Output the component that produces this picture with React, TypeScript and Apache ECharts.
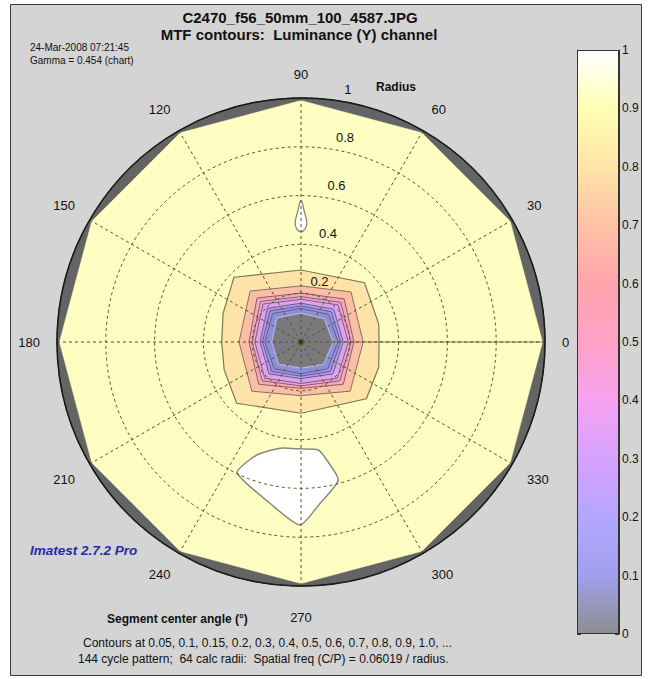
import { useEffect, useRef } from "react";
import * as echarts from "echarts";

// ---------- data ----------
const angleTicks = [0, 30, 60, 90, 120, 150, 180, 210, 240, 270, 300, 330];
const radiusTicks = [0.2, 0.4, 0.6, 0.8, 1];
const radiusLabelAngle = 80;
const colorbarTicks = [0, 0.1, 0.2, 0.3, 0.4, 0.5, 0.6, 0.7, 0.8, 0.9, 1];

// colormap (value -> colour)
const cmapValues = [1, 0.9, 0.8, 0.7, 0.6, 0.5, 0.4, 0.3, 0.2, 0.1, 0];
const cmapColors = ["#ffffff", "#ffffb4", "#ffe4a8", "#ffc2a6", "#ffa4ac", "#ffa2c8", "#f6a2f0", "#d6a2ff", "#b4a6ff", "#a0a0ee", "#8e8e8e"];

// measurement domain: 12 segments
const domainAngles = [0, 30, 60, 90, 120, 150, 180, 210, 240, 270, 300, 330];
const domainRadii = [0.99, 0.99, 0.99, 0.99, 0.99, 0.99, 0.99, 0.99, 0.99, 0.99, 0.99, 0.99];

// contour 0.9 (outer boundary of the orange band)
const c09Angles = [0, 13, 43, 90, 136, 160, 180, 200, 223.6, 270, 319, 342];
const c09Radii = [0.32, 0.327, 0.356, 0.295, 0.382, 0.34, 0.325, 0.335, 0.364, 0.292, 0.355, 0.335];

// inner contours, sampled at 8 directions
const octAngles = [0, 45, 90, 135, 180, 225, 270, 315];
const c08Radii = [0.255, 0.29, 0.23, 0.295, 0.254, 0.285, 0.22, 0.285];
const c07Radii = [0.217, 0.25, 0.2, 0.255, 0.213, 0.245, 0.19, 0.245];
const c06Radii = [0.205, 0.23, 0.186, 0.235, 0.2, 0.225, 0.18, 0.225];
const c05Radii = [0.194, 0.215, 0.175, 0.22, 0.189, 0.21, 0.17, 0.21];
const c04Radii = [0.173, 0.19, 0.159, 0.195, 0.168, 0.185, 0.15, 0.185];
const c03Radii = [0.162, 0.175, 0.148, 0.18, 0.158, 0.17, 0.14, 0.17];
const c02Radii = [0.152, 0.16, 0.138, 0.165, 0.148, 0.155, 0.13, 0.155];
const c01Radii = [0.132, 0.135, 0.118, 0.14, 0.12, 0.13, 0.107, 0.13];

// regions above 1.0
const whiteTopAngles = [90, 91.6, 92.8, 92.2, 90, 87.8, 87.2, 88.4];
const whiteTopRadii = [0.58, 0.53, 0.49, 0.465, 0.452, 0.465, 0.49, 0.53];
const whiteLowAngles = [244, 248.6, 258.8, 269.5, 279.1, 282.3, 285.1, 276.7, 269.7, 259.1];
const whiteLowRadii = [0.596, 0.4975, 0.444, 0.438, 0.448, 0.495, 0.586, 0.666, 0.75, 0.673];

const seamAngle = 0;

// ---------- styles ----------
const FONT = '"Liberation Sans", Arial, sans-serif';
const GRID = "#55532f";
const WEDGE = "#646464";
const YELLOW = "#fefec2";
const LINE = "#7e7658";

type Shape =
  | { kind: "circle"; fill: string }
  | { kind: "poly"; angles: number[]; radii: number[]; fill: string; stroke: string; width: number; smooth: number }
  | { kind: "seam" }
  | { kind: "dot" };

const shapes: Shape[] = [
  { kind: "circle", fill: WEDGE },
  { kind: "poly", angles: domainAngles, radii: domainRadii, fill: YELLOW, stroke: YELLOW, width: 0.5, smooth: 0 },
  { kind: "poly", angles: whiteTopAngles, radii: whiteTopRadii, fill: "#ffffff", stroke: "#8a8a7c", width: 1.3, smooth: 0.4 },
  { kind: "poly", angles: whiteLowAngles, radii: whiteLowRadii, fill: "#ffffff", stroke: "#8a8a7c", width: 1.5, smooth: 0.2 },
  { kind: "poly", angles: c09Angles, radii: c09Radii, fill: "#fde3a8", stroke: LINE, width: 1.2, smooth: 0 },
  { kind: "poly", angles: octAngles, radii: c08Radii, fill: "#f9bea4", stroke: "#8a6e5e", width: 1, smooth: 0 },
  { kind: "poly", angles: octAngles, radii: c07Radii, fill: "#f6a8b4", stroke: "#8a5e6a", width: 1, smooth: 0 },
  { kind: "poly", angles: octAngles, radii: c06Radii, fill: "#f1a2cc", stroke: "#8a5e7a", width: 1, smooth: 0 },
  { kind: "poly", angles: octAngles, radii: c05Radii, fill: "#dea2ea", stroke: "#7a5e8a", width: 1, smooth: 0 },
  { kind: "poly", angles: octAngles, radii: c04Radii, fill: "#b898ee", stroke: "#6a5e8a", width: 1, smooth: 0 },
  { kind: "poly", angles: octAngles, radii: c03Radii, fill: "#9e92e4", stroke: "#5e5e8a", width: 1, smooth: 0 },
  { kind: "poly", angles: octAngles, radii: c02Radii, fill: "#8e8ed6", stroke: "#5e5e86", width: 1, smooth: 0 },
  { kind: "poly", angles: octAngles, radii: c01Radii, fill: "#7a7a7e", stroke: "#b0b4e4", width: 1.2, smooth: 0 },
  { kind: "seam" },
  { kind: "dot" },
];

export default function App() {
  const ref = useRef<HTMLDivElement>(null);

  useEffect(() => {
    if (!ref.current) return;
    const chart = echarts.init(ref.current, undefined, { renderer: "svg" });

    const renderItem = (params: any, api: any) => {
      const s = shapes[params.dataIndex];
      if (s.kind === "circle") {
        const c = api.coord([0, 0]);
        const e = api.coord([1, 0]);
        return { type: "circle", shape: { cx: c[0], cy: c[1], r: e[0] - c[0] }, style: { fill: s.fill, stroke: "#2a2a2a", lineWidth: 1 } };
      }
      if (s.kind === "dot") {
        const c = api.coord([0, 0]);
        return { type: "circle", shape: { cx: c[0], cy: c[1], r: 2.2 }, style: { fill: "#111" }, z2: 50 };
      }
      if (s.kind === "seam") {
        const c = api.coord([0, seamAngle]);
        const e = api.coord([1, seamAngle]);
        return { type: "line", shape: { x1: c[0], y1: c[1], x2: e[0], y2: e[1] }, style: { stroke: LINE, lineWidth: 1 } };
      }
      const pts = s.angles.map((a, i) => api.coord([s.radii[i], a]));
      return {
        type: "polygon",
        shape: { points: pts, smooth: s.smooth },
        style: { fill: s.fill, stroke: s.stroke, lineWidth: s.width },
      };
    };

    const gradStops = cmapValues.map((v, i) => ({ offset: 1 - v, color: cmapColors[i] }));

    const text = (x: number, y: number, t: string, size: number, opts: any = {}) => ({
      type: "text",
      x,
      y,
      style: {
        text: t,
        fontFamily: FONT,
        fontSize: size,
        fontWeight: opts.bold ? "bold" : "normal",
        fontStyle: opts.italic ? "italic" : "normal",
        fill: opts.color || "#111",
        align: opts.align || "left",
        verticalAlign: "middle",
      },
      z: 100,
    });

    chart.setOption({
      animation: false,
      backgroundColor: "#ffffff",
      graphic: [
        { type: "rect", shape: { x: 10.5, y: 4.5, width: 631, height: 671 }, style: { fill: "#d4d4d4", stroke: "#3a3a3a", lineWidth: 1 }, z: -100 },
        text(300, 17, "C2470_f56_50mm_100_4587.JPG", 15, { bold: true, align: "center" }),
        text(299, 34, "MTF contours:  Luminance (Y) channel", 15, { bold: true, align: "center" }),
        text(30, 47, "24-Mar-2008 07:21:45", 10),
        text(30, 60, "Gamma = 0.454 (chart)", 10),
        text(376, 87, "Radius", 12, { bold: true }),
        text(30, 550, "Imatest 2.7.2 Pro", 13.5, { bold: true, italic: true, color: "#2a2aa8" }),
        text(107, 619, "Segment center angle (°)", 12, { bold: true }),
        text(83, 643, "Contours at 0.05, 0.1, 0.15, 0.2, 0.3, 0.4, 0.5, 0.6, 0.7, 0.8, 0.9, 1.0, ...", 12),
        text(78, 659, "144 cycle pattern;  64 calc radii:  Spatial freq (C/P) = 0.06019 / radius.", 12),
      ],
      polar: { center: [301, 342], radius: 244 },
      angleAxis: {
        type: "value",
        min: 0,
        max: 360,
        interval: 30,
        startAngle: 0,
        clockwise: false,
        z: 10,
        axisLine: { show: true, lineStyle: { color: "#1a1a1a", width: 1.5 } },
        axisTick: { show: false },
        axisLabel: {
          show: true,
          margin: 17,
          fontFamily: FONT,
          fontSize: 13,
          color: "#111",
          formatter: (v: number) => (angleTicks.includes(v) ? (v === 270 ? "{b|270}" : String(v)) : ""),
          rich: { b: { fontFamily: FONT, fontSize: 13, color: "#111", padding: [8, 0, 0, 0] } },
        },
        splitLine: { show: true, lineStyle: { color: GRID, type: [3, 3], width: 1 } },
      },
      radiusAxis: {
        type: "value",
        min: 0,
        max: 1,
        interval: 0.2,
        z: 10,
        axisLine: { show: false },
        axisTick: { show: false },
        axisLabel: { show: false },
        splitLine: { show: true, lineStyle: { color: GRID, type: [3, 3], width: 1 } },
      },
      grid: { left: 577, top: 50, width: 42, height: 584 },
      xAxis: { type: "category", data: ["cb"], show: false },
      yAxis: [
        {
          type: "value",
          min: 0,
          max: 1,
          interval: 0.1,
          position: "right",
          axisLine: { show: true, lineStyle: { color: "#333" } },
          axisTick: { show: true, inside: true, length: 4, lineStyle: { color: "#333" } },
          axisLabel: {
            margin: 3,
            fontFamily: FONT,
            fontSize: 12,
            color: "#111",
            formatter: (v: number) => (colorbarTicks.includes(Math.round(v * 10) / 10) ? (v === 0 || v === 1 ? String(v) : v.toFixed(1)) : ""),
          },
          splitLine: { show: false },
        },
        {
          type: "value",
          min: 0,
          max: 1,
          interval: 0.1,
          position: "left",
          axisLine: { show: true, lineStyle: { color: "#333" } },
          axisTick: { show: true, inside: true, length: 4, lineStyle: { color: "#333" } },
          axisLabel: { show: false },
          splitLine: { show: false },
        },
      ],
      series: [
        {
          type: "custom",
          coordinateSystem: "polar",
          renderItem,
          data: shapes.map(() => [0, 0]),
          z: 2,
          silent: true,
        },
        {
          type: "scatter",
          coordinateSystem: "polar",
          data: radiusTicks.map((r) => [r, radiusLabelAngle]),
          symbolSize: 0,
          z: 20,
          silent: true,
          itemStyle: { color: "#111", opacity: 1 },
          label: {
            show: true,
            position: "right",
            offset: [-4, -12],
            fontFamily: FONT,
            fontSize: 13,
            color: "#111",
            opacity: 1,
            textBorderWidth: 0,
            formatter: (p: any) => (p.value[0] === 1 ? "1" : p.value[0].toFixed(1)),
          },
        },
        {
          type: "bar",
          xAxisIndex: 0,
          yAxisIndex: 0,
          data: [1],
          barWidth: "100%",
          silent: true,
          itemStyle: {
            color: new echarts.graphic.LinearGradient(0, 0, 0, 1, gradStops),
            borderColor: "#333",
            borderWidth: 1,
          },
          z: 1,
        },
      ],
    });

    return () => chart.dispose();
  }, []);

  return <div ref={ref} style={{ position: "absolute", left: 0, top: 0, width: 650, height: 679 }} />;
}
